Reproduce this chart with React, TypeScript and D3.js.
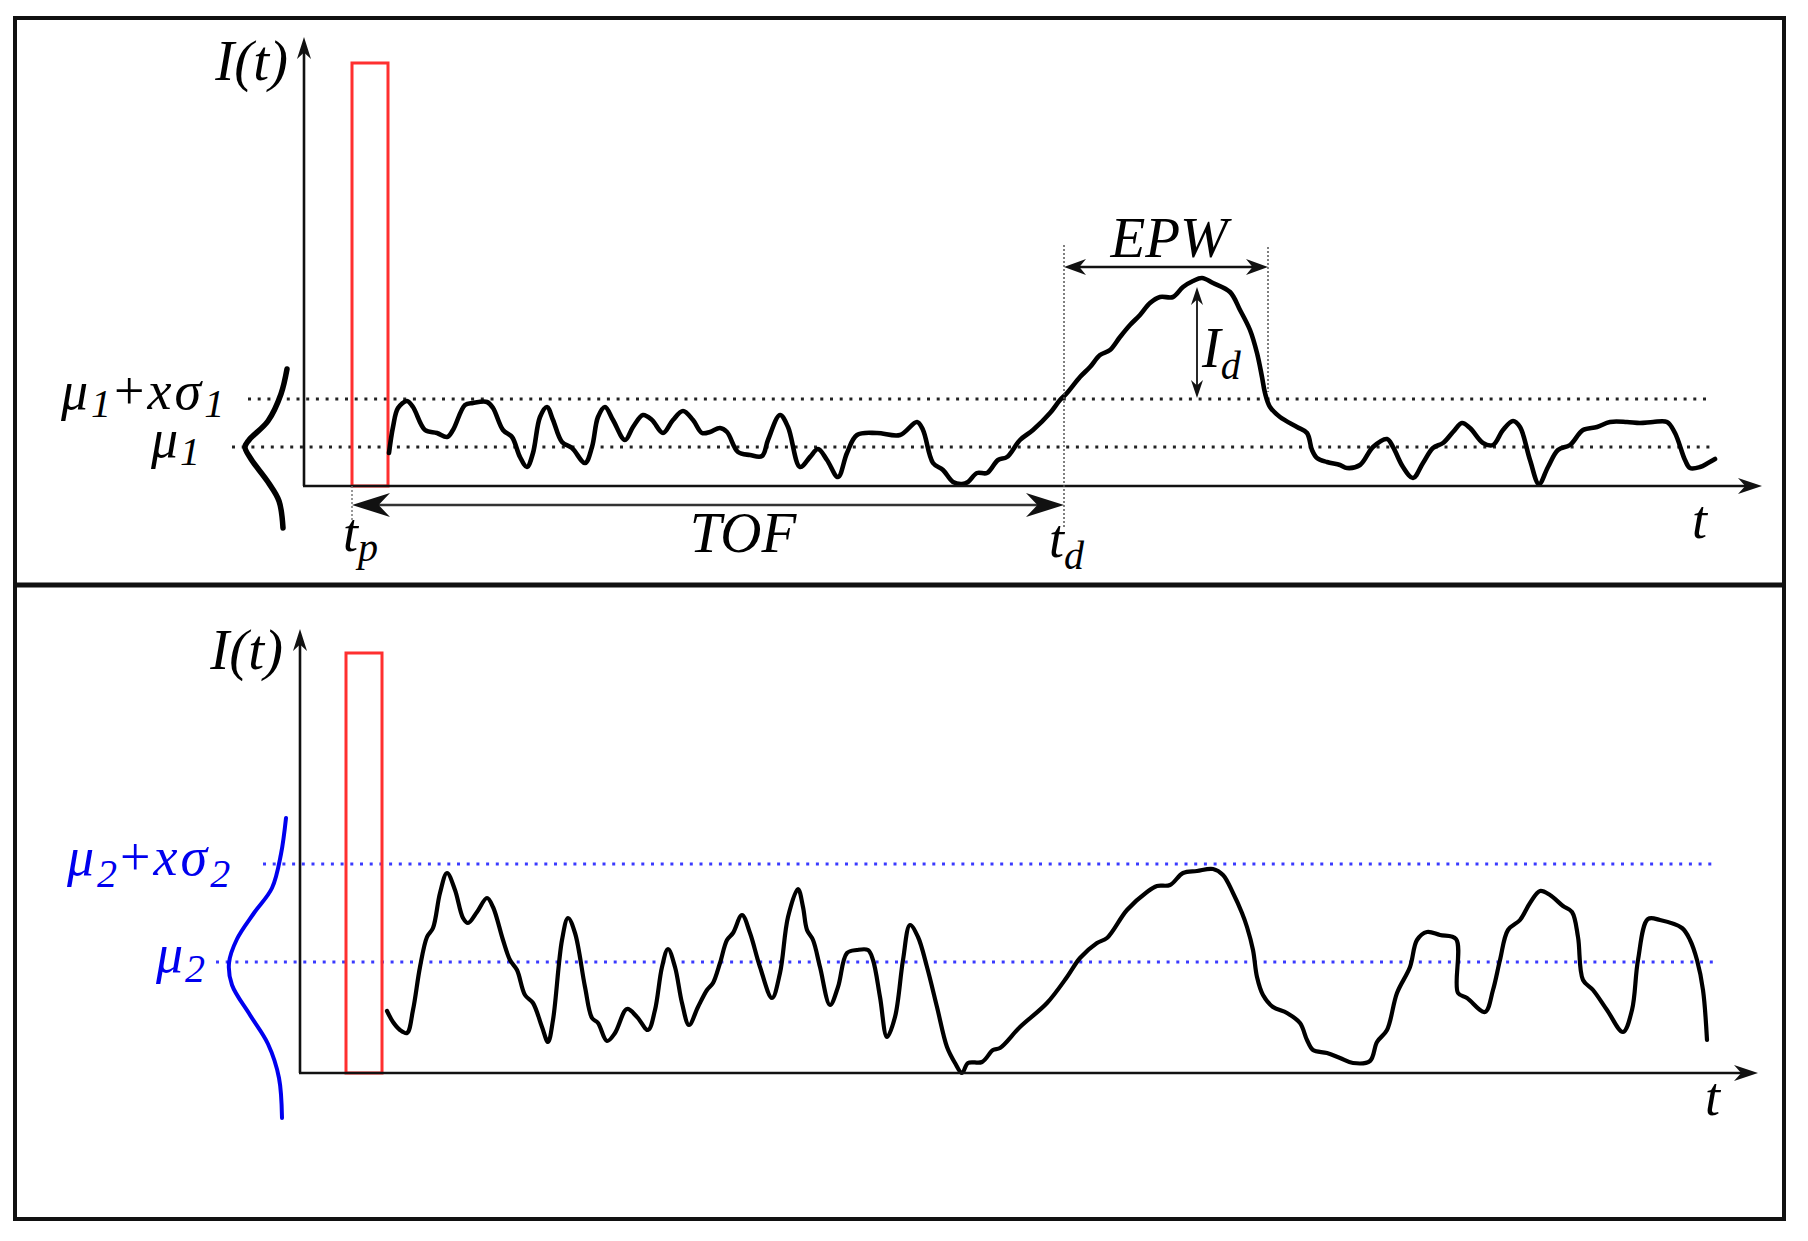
import React from 'react';
import * as d3 from 'd3';

const W = 1808;
const H = 1241;

// ---------- data (time t, intensity I) ----------
const topSignal: [number, number][] = [
  [8.5, 3.3], [8.9, 5.9], [9.4, 7.8], [10.3, 8.5], [10.9, 7.9], [12.1, 5.6], [13.3, 5.3], [14.3, 4.9],
  [14.9, 5.6], [16.1, 8.1], [16.9, 8.3], [18.3, 8.4], [18.9, 7.8], [19.9, 5.6], [20.8, 4.9], [21.6, 2.9],
  [22.3, 1.9], [22.9, 3.3], [23.6, 6.9], [24.3, 7.9], [24.9, 6.6], [25.8, 4.4], [26.8, 3.8], [28.1, 2.3],
  [28.8, 3.9], [29.4, 6.9], [30.1, 7.9], [30.9, 6.6], [32.1, 4.6], [32.9, 5.9], [33.9, 7.1], [34.8, 6.6],
  [35.9, 5.3], [36.9, 6.6], [37.9, 7.5], [38.9, 6.6], [39.8, 5.3], [40.6, 5.4], [41.6, 5.8], [42.3, 5.4],
  [43.4, 3.4], [44.6, 3.1], [45.8, 3.0], [46.4, 4.6], [47.6, 7.1], [48.4, 5.9], [49.6, 1.9], [50.6, 2.9],
  [51.4, 3.7], [52.3, 2.6], [53.4, 0.9], [54.3, 3.3], [55.3, 5.1], [57.3, 5.3], [59.6, 5.1], [61.3, 6.4],
  [61.9, 5.6], [62.9, 2.3], [63.9, 1.6], [64.9, 0.4], [65.8, 0.2], [66.4, 0.4], [67.3, 1.3], [68.3, 1.3],
  [69.4, 2.6], [70.3, 2.9], [71.6, 4.6], [72.9, 5.6], [74.6, 7.3], [75.6, 8.6], [76.3, 9.3], [77.6, 10.9],
  [78.6, 11.9], [79.6, 13.1], [80.6, 13.6], [81.6, 14.9], [82.6, 16.1], [83.6, 17.1], [84.6, 18.3], [85.6, 18.9],
  [86.9, 18.9], [87.9, 19.9], [88.9, 20.5], [89.8, 20.8], [90.9, 20.3], [92.6, 19.4], [93.6, 17.6], [94.6, 15.6],
  [95.3, 13.3], [95.8, 10.9], [96.1, 9.3], [96.6, 7.9], [97.6, 6.9], [99.3, 5.9], [100.3, 5.3], [100.8, 3.6],
  [101.3, 2.8], [102.3, 2.4], [103.6, 2.1], [104.3, 1.8], [105.6, 2.1], [106.9, 3.9], [108.3, 4.7], [108.9, 3.9],
  [109.9, 1.9], [110.9, 0.8], [111.9, 2.3], [112.9, 3.8], [113.9, 4.3], [114.9, 5.4], [115.8, 6.3], [116.6, 5.8],
  [117.9, 4.3], [118.9, 4.1], [119.9, 5.6], [120.9, 6.5], [121.6, 5.9], [122.6, 2.6], [123.5, 0.2], [124.4, 1.9],
  [125.4, 3.6], [126.6, 4.1], [127.9, 5.6], [129.3, 5.9], [130.6, 6.4], [132.3, 6.4], [133.6, 6.3], [134.9, 6.4],
  [136.3, 6.4], [137.1, 5.3], [138.1, 2.6], [138.6, 1.8], [139.6, 1.9], [140.4, 2.3], [141.1, 2.7],
];

const bottomSignal: [number, number][] = [
  [8.7, 6.2], [9.3, 5.1], [10.0, 4.3], [10.7, 4.0], [11.3, 6.3], [12.0, 10.6], [12.7, 13.6], [13.3, 14.5],
  [14.0, 18.0], [14.7, 20.0], [15.5, 18.3], [16.3, 15.5], [16.8, 15.0], [17.7, 16.1], [18.7, 17.5], [19.3, 16.6],
  [20.3, 13.3], [21.0, 11.3], [21.7, 10.3], [22.5, 7.8], [23.3, 7.0], [24.2, 4.6], [24.8, 3.1], [25.3, 5.3],
  [26.2, 13.3], [26.8, 15.5], [27.5, 14.0], [28.5, 8.6], [29.2, 5.5], [29.8, 5.0], [30.7, 3.2], [31.5, 4.0],
  [32.7, 6.4], [33.7, 5.6], [34.8, 4.3], [35.5, 6.3], [36.2, 10.6], [36.8, 12.4], [37.5, 10.6], [38.2, 7.0],
  [38.9, 4.8], [39.8, 6.6], [40.7, 8.3], [41.3, 9.0], [42.0, 11.0], [42.7, 13.3], [43.3, 14.0], [44.2, 15.8],
  [45.0, 14.0], [46.0, 10.6], [47.2, 7.5], [48.0, 10.0], [48.8, 15.6], [49.8, 18.4], [50.3, 16.6], [50.7, 14.3],
  [51.3, 13.3], [52.0, 10.6], [53.0, 6.8], [53.8, 8.6], [54.7, 12.0], [55.7, 12.3], [56.8, 12.3], [57.3, 11.3],
  [58.0, 7.6], [58.7, 3.6], [59.5, 5.6], [60.3, 11.3], [61.0, 14.8], [61.8, 13.6], [62.7, 10.6], [63.7, 6.6],
  [64.7, 2.6], [65.5, 1.0], [66.2, 0.0], [66.8, 1.0], [68.2, 1.1], [69.3, 2.3], [70.0, 2.5], [72.0, 4.6],
  [74.7, 7.0], [76.7, 9.6], [78.0, 11.5], [79.7, 13.0], [80.7, 13.5], [82.7, 16.3], [84.7, 18.1], [85.7, 18.7],
  [87.0, 18.8], [88.3, 20.0], [89.7, 20.2], [91.3, 20.4], [92.3, 19.8], [93.3, 18.0], [94.2, 16.0], [94.7, 14.6],
  [95.3, 12.3], [95.7, 9.6], [96.3, 7.8], [97.3, 6.6], [98.7, 6.0], [100.0, 5.0], [100.7, 3.3], [101.3, 2.3],
  [102.7, 2.0], [104.0, 1.5], [105.3, 1.0], [107.0, 1.2], [107.7, 3.1], [108.7, 4.3], [109.7, 8.0], [111.0, 10.6],
  [111.7, 13.3], [112.7, 14.1], [114.0, 13.8], [115.6, 13.4], [115.8, 8.0], [116.7, 7.5], [118.5, 6.1], [119.3, 8.3],
  [120.0, 11.3], [120.8, 14.3], [122.0, 15.3], [123.0, 17.0], [124.0, 18.2], [125.0, 17.8], [126.3, 16.7], [127.2, 16.1],
  [127.8, 13.6], [128.3, 9.3], [129.3, 8.3], [130.7, 6.3], [132.3, 4.1], [133.2, 6.3], [133.8, 11.3], [134.8, 15.4],
  [136.0, 15.3], [138.2, 14.5], [139.0, 13.3], [139.7, 11.3], [140.3, 8.3], [140.7, 3.3],
];

// distribution sketches (t offset left of the axis, I)
const topGauss: [number, number][] = [
  [-1.7, 11.7], [-2.3, 9.2], [-3.6, 6.5], [-5.5, 4.6], [-5.9, 3.9], [-5.3, 2.7], [-3.6, 0.4], [-2.5, -1.5], [-2.1, -4.2],
];
const bottomGauss: [number, number][] = [
  [-1.4, 25.5], [-1.9, 21.9], [-2.8, 18.5], [-4.6, 16.0], [-6.3, 13.4], [-7.1, 11.0], [-6.8, 8.8], [-5.0, 5.8],
  [-3.2, 2.9], [-2.1, -0.5], [-1.8, -4.5],
];

// thresholds
const topLevels = { mu: 3.9, muSigma: 8.7 };
const bottomLevels = { mu: 11.1, muSigma: 20.9 };
const topPulse = [4.8, 8.4, 42.3];
const bottomPulse = [4.6, 8.2, 42.0];
const tp = 4.8;
const td = 76.0;
const epwEnd = 96.4;
const tPeak = 89.3;

// ---------- scales ----------
const xTop = d3.scaleLinear().domain([0, 145.8]).range([304, 1762]);
const yTop = d3.scaleLinear().domain([0, 44.9]).range([486, 37]);
const xBot = d3.scaleLinear().domain([0, 145.8]).range([300, 1758]);
const yBot = d3.scaleLinear().domain([0, 44.4]).range([1073, 629]);

function arrowHead(x: number, y: number, angle: number, L: number, w: number) {
  const dx = Math.cos(angle), dy = Math.sin(angle);
  const px = -dy, py = dx;
  const b1 = [x - L * dx + w * px, y - L * dy + w * py];
  const b2 = [x - L * dx - w * px, y - L * dy - w * py];
  const n = [x - 0.7 * L * dx, y - 0.7 * L * dy];
  return `M${x},${y}L${b1[0]},${b1[1]}L${n[0]},${n[1]}L${b2[0]},${b2[1]}Z`;
}

const serif = '"Liberation Serif", "DejaVu Serif", serif';

function Panel({ x, y, signal, gauss, levels, pulse, gaussColor, lineColor, sw, gsw, dotStart }: any) {
  const line = d3.line<[number, number]>().x(d => x(d[0])).y(d => y(d[1])).curve(d3.curveCatmullRom.alpha(0.5));
  const x0 = x(0), y0 = y(0);
  const xEnd = x.range()[1];
  const yTopPx = y.range()[1];
  return (
    <g>
      <line x1={x(dotStart[0])} x2={x(dotStart[2])} y1={y(levels.muSigma)} y2={y(levels.muSigma)}
        stroke={lineColor} strokeWidth={3} strokeDasharray="3 6.7" />
      <line x1={x(dotStart[1])} x2={x(dotStart[3])} y1={y(levels.mu)} y2={y(levels.mu)}
        stroke={lineColor} strokeWidth={3} strokeDasharray="3 6.7" />
      <rect x={x(pulse[0])} y={y(pulse[2])} width={x(pulse[1]) - x(pulse[0])} height={y(0) - y(pulse[2])}
        fill="none" stroke="#ff2f2f" strokeWidth={3} />
      <path d={line(gauss) || ''} fill="none" stroke={gaussColor} strokeWidth={gsw} strokeLinecap="round" />
      <path d={line(signal) || ''} fill="none" stroke="#000" strokeWidth={sw} strokeLinejoin="round" strokeLinecap="round" />
      <line x1={x0} y1={y0} x2={x0} y2={yTopPx + 12} stroke="#111" strokeWidth={2.6} />
      <path d={arrowHead(x0, yTopPx, -Math.PI / 2, 22, 7)} fill="#111" />
      <line x1={x0 - 1} y1={y0} x2={xEnd - 12} y2={y0} stroke="#111" strokeWidth={2.6} />
      <path d={arrowHead(xEnd, y0, 0, 24, 8)} fill="#111" />
    </g>
  );
}

export default function App() {
  const italic = { fontFamily: serif, fontStyle: 'italic' as const };
  return (
    <svg width={W} height={H} style={{ position: 'absolute', left: 0, top: 0, background: '#fff' }}>
      <rect x={0} y={0} width={W} height={H} fill="#fff" />
      {/* frames */}
      <rect x={15} y={18} width={1769} height={1201} fill="none" stroke="#111" strokeWidth={4} />
      <line x1={15} x2={1784} y1={585} y2={585} stroke="#111" strokeWidth={5} />

      {/* top panel */}
      <Panel x={xTop} y={yTop} signal={topSignal} gauss={topGauss} levels={topLevels} pulse={topPulse}
        gaussColor="#000" lineColor="#222" sw={4.6} gsw={5.5} dotStart={[-5.6, -7.2, 140.3, 140.6]} />
      {/* bottom panel */}
      <Panel x={xBot} y={yBot} signal={bottomSignal} gauss={bottomGauss} levels={bottomLevels} pulse={bottomPulse}
        gaussColor="#0000ee" lineColor="#3a3aff" sw={4.2} gsw={4} dotStart={[-3.7, -8.4, 141.7, 141.7]} />

      {/* top annotations */}
      <line x1={xTop(tp)} x2={xTop(tp)} y1={yTop(0)} y2={yTop(-3.6)} stroke="#777" strokeWidth={1.5} strokeDasharray="2 2" />
      <line x1={xTop(td)} x2={xTop(td)} y1={yTop(24.1)} y2={yTop(-4.2)} stroke="#555" strokeWidth={1.5} strokeDasharray="2 2" />
      <line x1={xTop(epwEnd)} x2={xTop(epwEnd)} y1={yTop(23.9)} y2={yTop(9.4)} stroke="#555" strokeWidth={1.5} strokeDasharray="2 2" />
      {/* TOF arrow */}
      <line x1={xTop(tp) + 20} x2={xTop(td) - 20} y1={yTop(-1.9)} y2={yTop(-1.9)} stroke="#333" strokeWidth={2.4} />
      <path d={arrowHead(xTop(tp), yTop(-1.9), Math.PI, 38, 12)} fill="#111" />
      <path d={arrowHead(xTop(td), yTop(-1.9), 0, 38, 12)} fill="#111" />
      {/* EPW arrow */}
      <line x1={xTop(td) + 10} x2={xTop(epwEnd) - 10} y1={yTop(21.9)} y2={yTop(21.9)} stroke="#111" strokeWidth={2.4} />
      <path d={arrowHead(xTop(td), yTop(21.9), Math.PI, 22, 8)} fill="#111" />
      <path d={arrowHead(xTop(epwEnd), yTop(21.9), 0, 22, 8)} fill="#111" />
      {/* Id arrow */}
      <line x1={xTop(tPeak)} x2={xTop(tPeak)} y1={yTop(19.9) + 8} y2={yTop(8.8) - 8} stroke="#111" strokeWidth={1.8} />
      <path d={arrowHead(xTop(tPeak), yTop(19.9), -Math.PI / 2, 18, 6)} fill="#111" />
      <path d={arrowHead(xTop(tPeak), yTop(8.8), Math.PI / 2, 18, 6)} fill="#111" />

      {/* texts top */}
      <text x={288} y={80} textAnchor="end" fontSize={57} {...italic}>I(t)</text>
      <text x={61} y={409} fontSize={54} letterSpacing={3} {...italic}>
        μ<tspan fontSize={40} dy={8}>1</tspan><tspan dy={-8} fontStyle="normal">+</tspan>xσ<tspan fontSize={40} dy={8}>1</tspan>
      </text>
      <text x={151} y={457} fontSize={54} letterSpacing={2} {...italic}>
        μ<tspan fontSize={40} dy={8}>1</tspan>
      </text>
      <text x={343} y={551} fontSize={54} {...italic}>
        t<tspan fontSize={40} dy={10}>p</tspan>
      </text>
      <text x={743} y={552} textAnchor="middle" fontSize={57} {...italic}>TOF</text>
      <text x={1049} y={557} fontSize={54} {...italic}>
        t<tspan fontSize={40} dy={12}>d</tspan>
      </text>
      <text x={1169} y={257} textAnchor="middle" fontSize={57} {...italic}>EPW</text>
      <text x={1202} y={367} fontSize={56} {...italic}>
        I<tspan fontSize={40} dy={12}>d</tspan>
      </text>
      <text x={1692} y={538} fontSize={54} {...italic}>t</text>

      {/* texts bottom */}
      <text x={283} y={669} textAnchor="end" fontSize={57} {...italic}>I(t)</text>
      <text x={67} y={875} fontSize={54} fill="#0000ee" letterSpacing={3} {...italic}>
        μ<tspan fontSize={40} dy={12}>2</tspan><tspan dy={-12} fontStyle="normal">+</tspan>xσ<tspan fontSize={40} dy={12}>2</tspan>
      </text>
      <text x={156} y={972} fontSize={54} fill="#0000ee" letterSpacing={2} {...italic}>
        μ<tspan fontSize={40} dy={10}>2</tspan>
      </text>
      <text x={1705} y={1115} fontSize={54} {...italic}>t</text>
    </svg>
  );
}
